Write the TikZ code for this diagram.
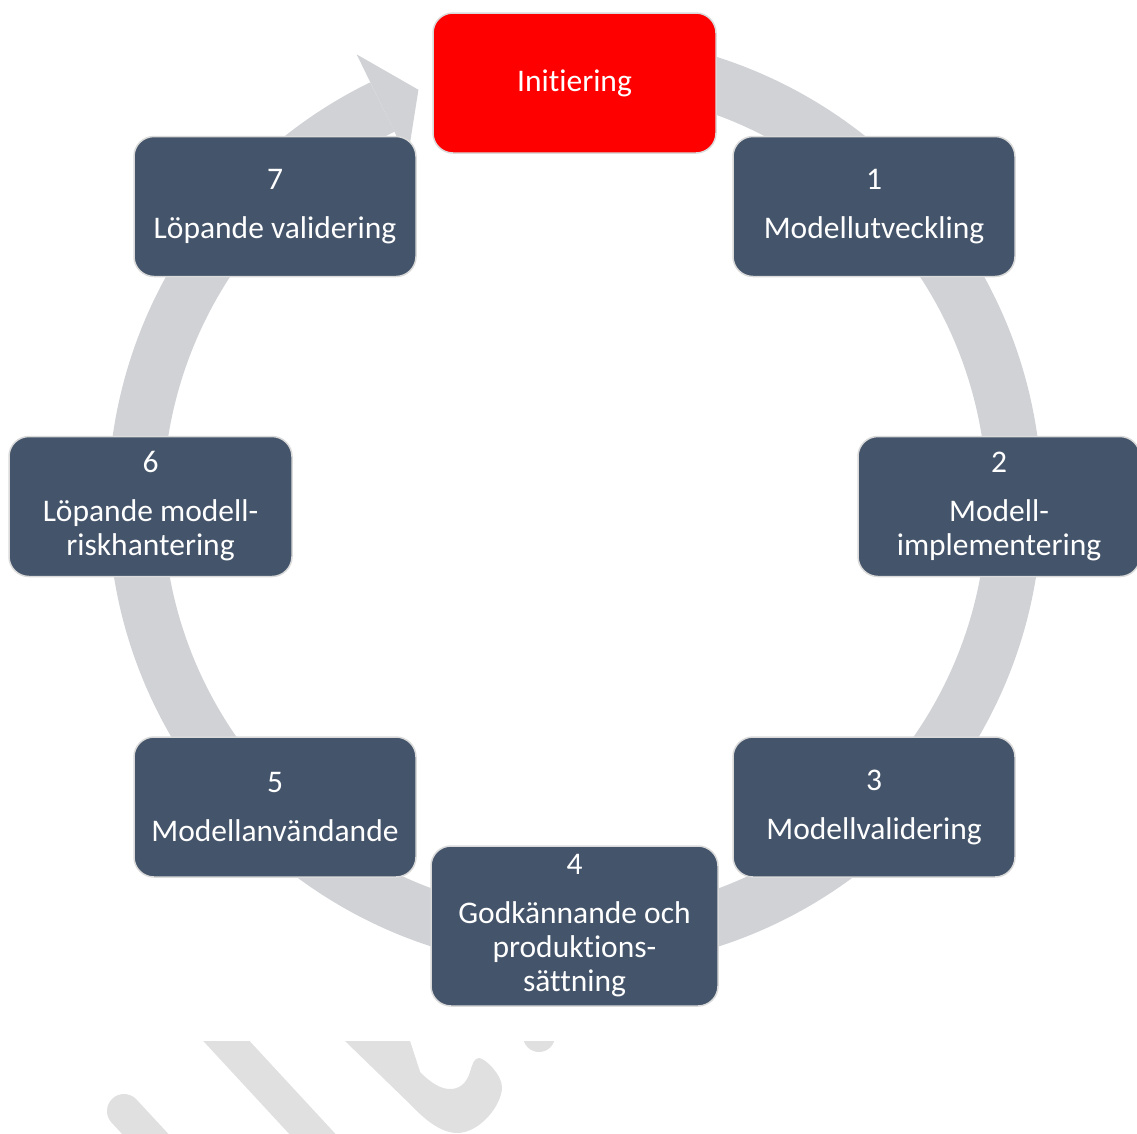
\documentclass[tikz,border=0pt]{standalone}
\usepackage{fontspec}
\setmainfont{Carlito}[RawFeature={-liga;-clig;-dlig}]
\definecolor{boxblue}{HTML}{44546A}
\definecolor{boxedge}{HTML}{DADADA}
\definecolor{ringgray}{HTML}{D0D2D6}
\definecolor{wmgray}{HTML}{E0E0E0}
\definecolor{initred}{HTML}{FF0000}
\begin{document}
\begin{tikzpicture}[x=1pt,y=-1pt,
  stepbox/.style={fill=boxblue, draw=boxedge, line width=1.5pt, rounded corners=20pt,
    minimum width=282pt, minimum height=140pt, text=white, align=center,
    font=\fontsize{31.5}{34}\selectfont, inner sep=0pt},
  ring/.style={draw=ringgray, line width=55pt},
  wm/.style={fill=wmgray, draw=none}]
\useasboundingbox (0,0) rectangle (1137,1133);
\clip (0,0) rectangle (1137,1133);
% cropped watermark fragment at the bottom
\begin{scope}
  \clip (0,1041) rectangle (1137,1133);
  \draw[draw=wmgray, line width=34pt, line cap=round] (124,1111) -- (175,1166);
  \draw[draw=wmgray, line width=34pt] (207,1020) -- (330,1153);
  \fill[wm] (330,1026) -- (405,1026) -- (420,1072)
    .. controls (430,1082) and (440,1089) .. (450,1089)
    .. controls (458,1089) and (466,1085) .. (470,1072)
    .. controls (472,1065) and (474,1058) .. (479,1058)
    .. controls (485,1058) and (502,1075) .. (502,1087)
    .. controls (502,1105) and (480,1133) .. (457,1133)
    .. controls (445,1133) and (430,1125) .. (413,1107)
    -- (345,1041) -- cycle;
  \fill[wm] (405,1026) -- (390,1041) -- (420,1072) -- cycle;
  \fill[wm] (539,1036) circle[radius=16];
\end{scope}
% ring with arrowhead
\begin{scope}[shift={(575,502)}]
  \draw[ring] (-90:439.5) arc[start angle=-90, end angle=244, radius=439.5];
  \fill[ringgray] (-116:498) -- (-110.8:441) -- (-116:382) -- cycle;
\end{scope}
% boxes
\node[stepbox, fill=initred, minimum width=283pt] (init) at (574.5,83) {Initiering};
\node[stepbox] (s1) at (874,206.5) {1\\[15pt]Modellutveckling};
\node[stepbox] (s2) at (999,506.5) {2\\[15pt]Modell-\\implementering};
\node[stepbox] (s3) at (874,807) {3\\[15pt]Modellvalidering};
\node[stepbox, minimum width=287pt, minimum height=160pt] (s4) at (574.5,926) {4\\[15pt]Godkännande och\\produktions-\\sättning};
\node[stepbox] (s5) at (275,807) {5\\[15pt]Modellanvändande};
\node[stepbox, minimum width=283pt] (s6) at (150.5,506.5) {6\\[15pt]Löpande modell-\\riskhantering};
\node[stepbox] (s7) at (275,206.5) {7\\[15pt]Löpande validering};
\end{tikzpicture}
\end{document}
